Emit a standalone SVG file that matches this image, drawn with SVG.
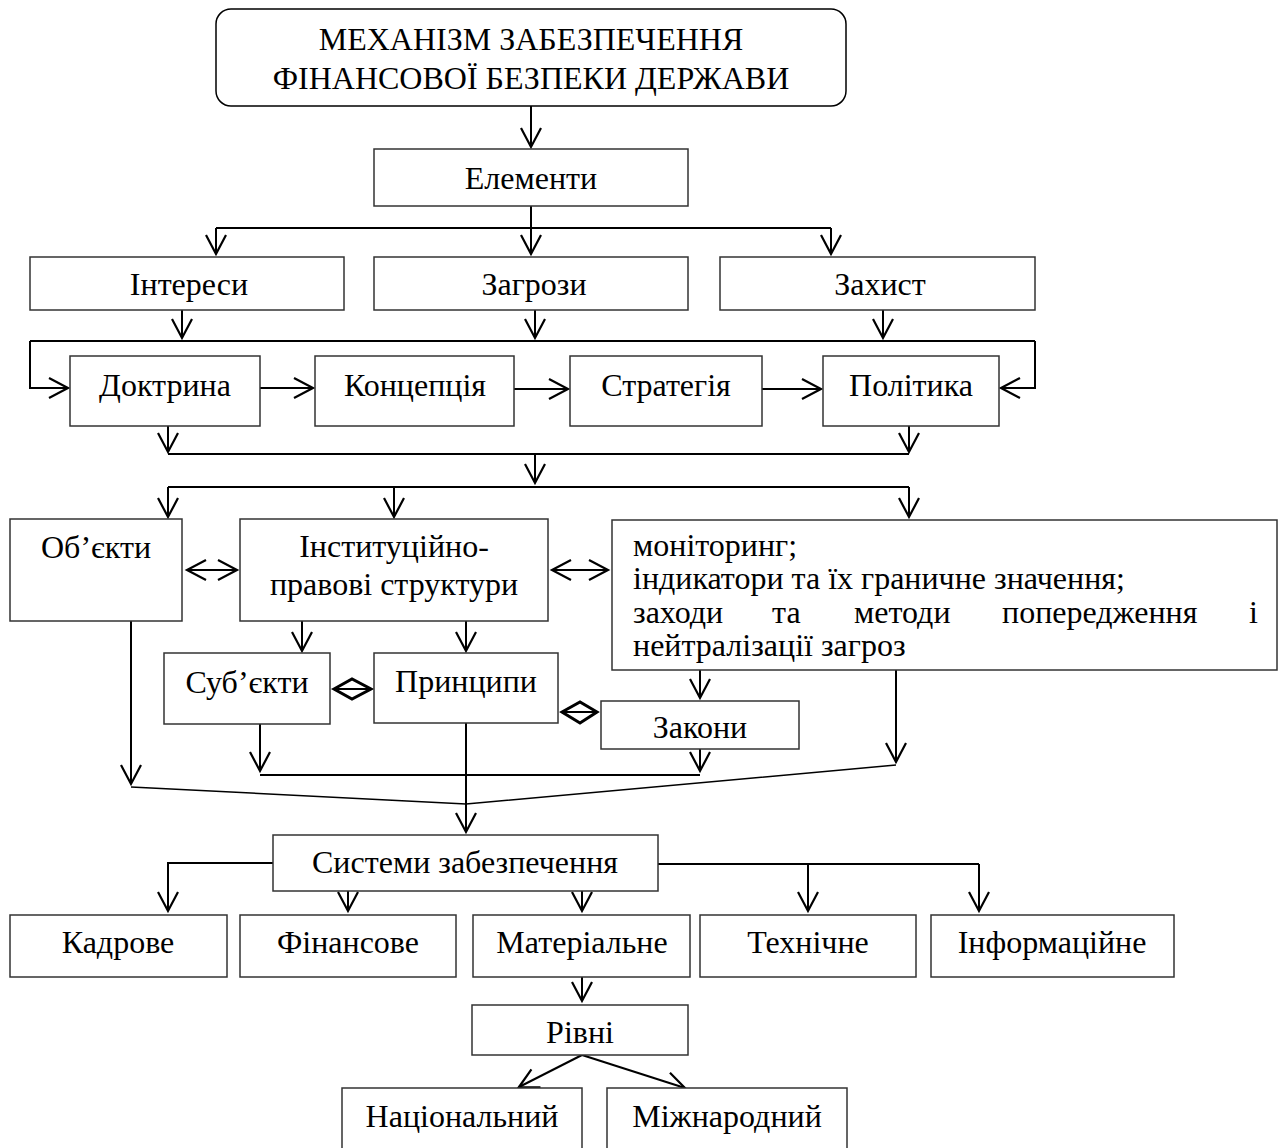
<svg xmlns="http://www.w3.org/2000/svg" width="1282" height="1148" viewBox="0 0 1282 1148">
<style>
.box{fill:#fff;stroke:#333;stroke-width:1.5}
.t{font-family:"Liberation Serif","Times New Roman",serif;font-size:32px;fill:#000;text-anchor:middle}
.l{text-anchor:start}
.c{fill:none;stroke:#000;stroke-width:2}
.a{marker-end:url(#ah)}
.d{marker-start:url(#ah);marker-end:url(#ah)}
.thin{fill:none;stroke:#000;stroke-width:1.5}
.dia{fill:none;stroke:#000;stroke-width:3;stroke-linejoin:miter}
</style>
<defs>
<marker id="ah" markerUnits="userSpaceOnUse" viewBox="-2 -12 24 24" markerWidth="24" markerHeight="24" refX="19" refY="0" orient="auto-start-reverse">
<path d="M0,-10 L19,0 L0,10" fill="none" stroke="#000" stroke-width="2.2"/>
</marker>
</defs>
<rect width="1282" height="1148" fill="#fff"/>
<g id="connectors">
<path class="c a" d="M531,106 V147"/>
<path class="c a" d="M531,206 V254"/>
<path class="c" d="M216,228 H831"/>
<path class="c a" d="M216,228 V254"/>
<path class="c a" d="M831,228 V254"/>
<path class="c a" d="M182,310 V338"/>
<path class="c a" d="M535,310 V338"/>
<path class="c a" d="M883,310 V338"/>
<path class="c" d="M30,341 H1035"/>
<path class="c a" d="M30,341 V388 H68"/>
<path class="c a" d="M1035,341 V388 H1001"/>
<path class="c a" d="M260,388 H313"/>
<path class="c a" d="M514,389 H568"/>
<path class="c a" d="M762,389 H821"/>
<path class="c a" d="M168,426 V452"/>
<path class="c a" d="M909,426 V452"/>
<path class="c" d="M168,454 H909"/>
<path class="c a" d="M535,454 V483"/>
<path class="c" d="M168,487 H909"/>
<path class="c a" d="M168,487 V517"/>
<path class="c a" d="M394,487 V517"/>
<path class="c a" d="M909,487 V517"/>
<path class="c d" d="M187,570 H237"/>
<path class="c d" d="M552,570 H608"/>
<path class="c a" d="M302,621 V651"/>
<path class="c a" d="M466,621 V651"/>
<path class="c a" d="M700,670 V698"/>
<polygon class="dia" points="334,689 352,679 371,689 352,699"/>
<path class="c" d="M334,689 H371"/>
<polygon class="dia" points="562,712 580,702 597,712 580,723"/>
<path class="c" d="M562,712 H597"/>
<path class="c a" d="M260,724 V771"/>
<path class="c a" d="M700,749 V771"/>
<path class="c" d="M260,775 H700"/>
<path class="c a" d="M466,723 V832"/>
<path class="c a" d="M131,621 V784"/>
<path class="c a" d="M896,670 V762"/>
<path class="thin" d="M131,787 L466,804 L896,765"/>
<path class="c a" d="M273,863 H168 V911"/>
<path class="c" d="M658,864 H979"/>
<path class="c a" d="M979,864 V911"/>
<path class="c a" d="M808,864 V911"/>
<path class="c a" d="M348,891 V911"/>
<path class="c a" d="M582,891 V911"/>
<path class="c a" d="M582,977 V1001"/>
<path class="c a" d="M582,1055 L519,1087"/>
<path class="c a" d="M582,1055 L685,1088"/>
</g>
<g id="n-main"><rect x="216" y="9" width="630" height="97" rx="15" fill="#fff" stroke="#000" stroke-width="1.5"/>
<text class="t" x="531" y="50">МЕХАНІЗМ ЗАБЕЗПЕЧЕННЯ</text>
<text class="t" x="531" y="89">ФІНАНСОВОЇ БЕЗПЕКИ ДЕРЖАВИ</text></g>
<g id="n-elements"><rect class="box" x="374" y="149" width="314" height="57"/><text class="t" x="531" y="189">Елементи</text></g>
<g id="n-interests"><rect class="box" x="30" y="257" width="314" height="53"/><text class="t" x="189" y="295">Інтереси</text></g>
<g id="n-threats"><rect class="box" x="374" y="257" width="314" height="53"/><text class="t" x="534" y="295">Загрози</text></g>
<g id="n-protection"><rect class="box" x="720" y="257" width="315" height="53"/><text class="t" x="880" y="295">Захист</text></g>
<g id="n-doctrine"><rect class="box" x="70" y="356" width="190" height="70"/><text class="t" x="165" y="396">Доктрина</text></g>
<g id="n-concept"><rect class="box" x="315" y="356" width="199" height="70"/><text class="t" x="415" y="396">Концепція</text></g>
<g id="n-strategy"><rect class="box" x="570" y="356" width="192" height="70"/><text class="t" x="666" y="396">Стратегія</text></g>
<g id="n-policy"><rect class="box" x="823" y="356" width="176" height="70"/><text class="t" x="911" y="396">Політика</text></g>
<g id="n-objects"><rect class="box" x="10" y="519" width="172" height="102"/><text class="t" x="96" y="558">Об’єкти</text></g>
<g id="n-institutional"><rect class="box" x="240" y="519" width="308" height="102"/>
<text class="t" x="394" y="557">Інституційно-</text><text class="t" x="394" y="595">правові структури</text></g>
<g id="n-monitoring"><rect class="box" x="612" y="520" width="665" height="150"/>
<text class="t l" x="633" y="556">моніторинг;</text>
<text class="t l" x="633" y="589">індикатори та їх граничне значення;</text>
<text class="t l" x="633" y="623">заходи</text>
<text class="t l" x="772" y="623">та</text>
<text class="t l" x="854" y="623">методи</text>
<text class="t l" x="1002" y="623">попередження</text>
<text class="t" x="1258" y="623" style="text-anchor:end">і</text>
<text class="t l" x="633" y="656">нейтралізації загроз</text></g>
<g id="n-subjects"><rect class="box" x="164" y="653" width="166" height="71"/><text class="t" x="247" y="693">Суб’єкти</text></g>
<g id="n-principles"><rect class="box" x="374" y="653" width="184" height="70"/><text class="t" x="466" y="692">Принципи</text></g>
<g id="n-laws"><rect class="box" x="601" y="701" width="198" height="48"/><text class="t" x="700" y="738">Закони</text></g>
<g id="n-systems"><rect class="box" x="273" y="835" width="385" height="56"/><text class="t" x="465" y="873">Системи забезпечення</text></g>
<g id="n-personnel"><rect class="box" x="10" y="915" width="217" height="62"/><text class="t" x="118" y="953">Кадрове</text></g>
<g id="n-financial"><rect class="box" x="240" y="915" width="216" height="62"/><text class="t" x="348" y="953">Фінансове</text></g>
<g id="n-material"><rect class="box" x="473" y="915" width="217" height="62"/><text class="t" x="582" y="953">Матеріальне</text></g>
<g id="n-technical"><rect class="box" x="700" y="915" width="216" height="62"/><text class="t" x="808" y="953">Технічне</text></g>
<g id="n-information"><rect class="box" x="931" y="915" width="243" height="62"/><text class="t" x="1052" y="953">Інформаційне</text></g>
<g id="n-levels"><rect class="box" x="472" y="1005" width="216" height="50"/><text class="t" x="580" y="1043">Рівні</text></g>
<g id="n-national"><rect class="box" x="342" y="1088" width="240" height="80"/><text class="t" x="462" y="1127">Національний</text></g>
<g id="n-international"><rect class="box" x="607" y="1088" width="240" height="80"/><text class="t" x="727" y="1127">Міжнародний</text></g>
</svg>
